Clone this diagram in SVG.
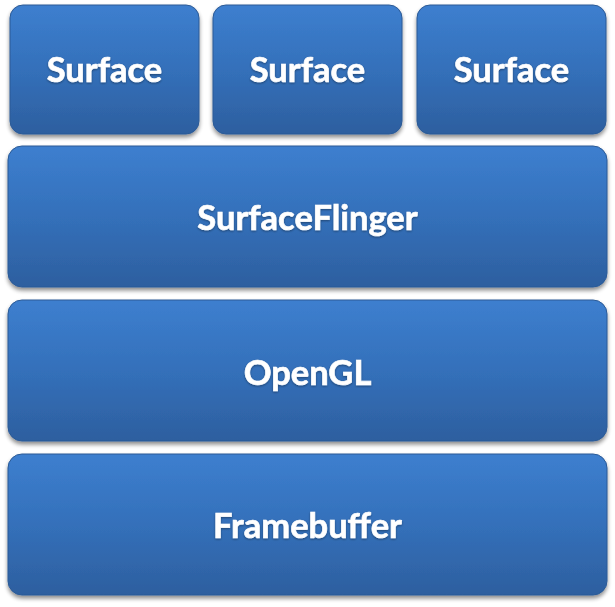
<svg xmlns="http://www.w3.org/2000/svg" width="615" height="607" viewBox="0 0 615 607">
<defs>
<linearGradient id="g" x1="0" y1="0" x2="0" y2="1">
<stop offset="0" stop-color="#3d7fcf"/>
<stop offset="0.5" stop-color="#3470ba"/>
<stop offset="1" stop-color="#2d5f9f"/>
</linearGradient>
<filter id="sh" x="-10%" y="-10%" width="120%" height="130%">
<feGaussianBlur in="SourceAlpha" stdDeviation="2"/>
<feOffset dx="0" dy="3" result="b"/>
<feComponentTransfer><feFuncA type="linear" slope="0.45"/></feComponentTransfer>
<feMerge><feMergeNode/><feMergeNode in="SourceGraphic"/></feMerge>
</filter>
<filter id="ts" x="-5%" y="-20%" width="110%" height="140%">
<feGaussianBlur in="SourceAlpha" stdDeviation="1"/>
<feOffset dx="0" dy="1"/>
<feComponentTransfer><feFuncA type="linear" slope="0.4"/></feComponentTransfer>
<feMerge><feMergeNode/><feMergeNode in="SourceGraphic"/></feMerge>
</filter>
</defs>
<style>
rect.b{fill:url(#g);stroke:#2c5a96;stroke-width:1;filter:url(#sh)}
text{font-family:Lato,"Open Sans","Liberation Sans",sans-serif;font-weight:bold;font-size:34.5px;fill:#ffffff;text-anchor:middle;filter:url(#ts);stroke:#ffffff;stroke-width:0.6}
</style>
<g id="connectors"/>
<g id="surface1"><rect class="b" x="10" y="5" width="189" height="129" rx="13"/><text x="104.5" y="82">Surface</text></g>
<g id="surface2"><rect class="b" x="213" y="5" width="189" height="129" rx="13"/><text x="307.5" y="82">Surface</text></g>
<g id="surface3"><rect class="b" x="417" y="5" width="189" height="129" rx="13"/><text x="511.5" y="82">Surface</text></g>
<g id="surfaceflinger"><rect class="b" x="8" y="146" width="599" height="141" rx="14"/><text x="307.5" y="230">SurfaceFlinger</text></g>
<g id="opengl"><rect class="b" x="8" y="300" width="599" height="141" rx="14"/><text x="307.5" y="385">OpenGL</text></g>
<g id="framebuffer"><rect class="b" x="8" y="454" width="599" height="141" rx="14"/><text x="307.5" y="538">Framebuffer</text></g>
</svg>
